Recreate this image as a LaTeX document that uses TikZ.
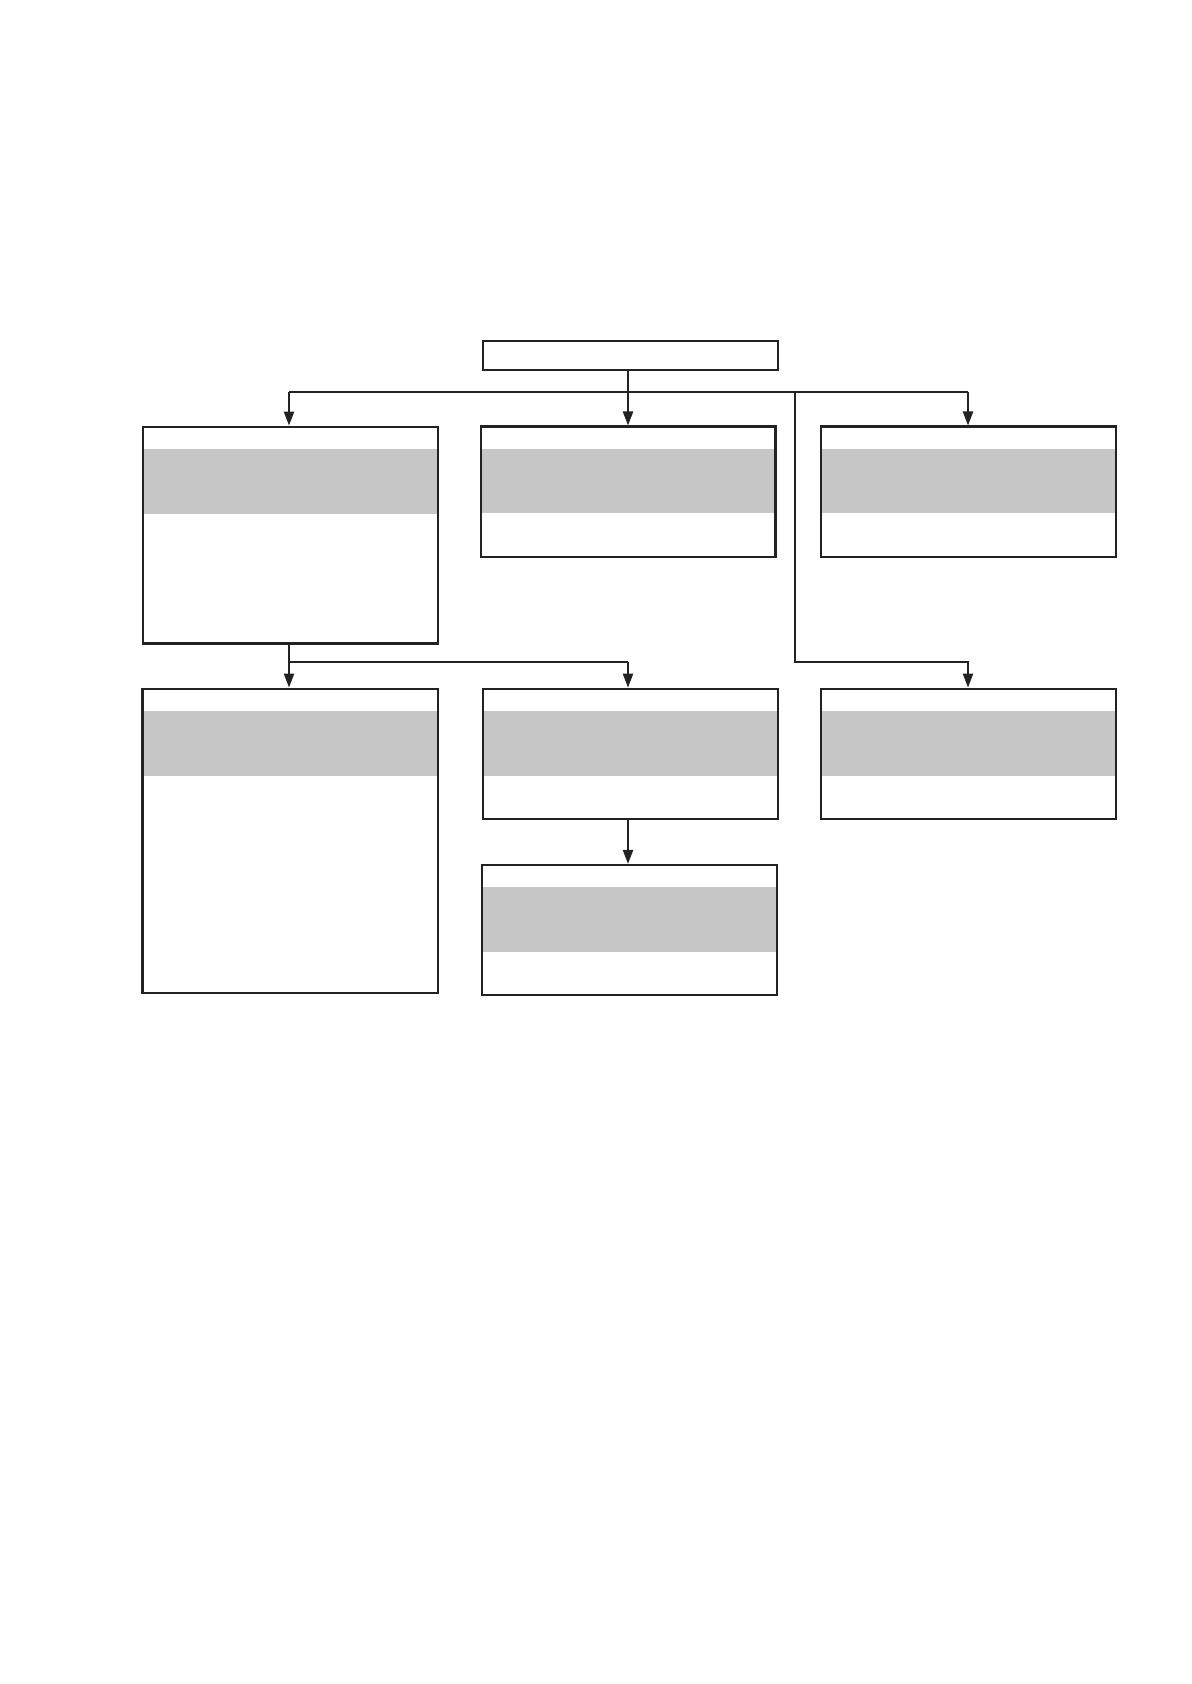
\documentclass[tikz,border=0pt]{standalone}
\usetikzlibrary{arrows.meta}
\definecolor{ink}{HTML}{222222}
\definecolor{band}{HTML}{C6C6C6}
\tikzset{
  x=0.5pt, y=-0.5pt,
  box/.style={draw=ink, line width=1.1pt, inner sep=0pt, fill=none},
  conn/.style={draw=ink, line width=1.1pt},
  arr/.style={conn, -{Triangle[length=7pt,width=5pt]}},
}
\newcommand{\bandbox}[6]{% name, cx, cy, w, h
  \fill[band] (#2-#4/2,#3-#5/2+22.3) rectangle (#2+#4/2,#3-#5/2+86.8);
  \node[box, minimum width=#4*0.5pt, minimum height=#5*0.5pt] (#1) at (#2,#3) {};
}
\begin{document}
\begin{tikzpicture}
\useasboundingbox[fill=white] (0,0) rectangle (1191,1684);
% top box
\node[box, minimum width=294.3*0.5pt, minimum height=29*0.5pt] (top) at (630.5,355.2) {};
% row 1
\bandbox{A}{290.5}{535.1}{295.6}{216.8}{}
\bandbox{B}{628.4}{491.6}{294.3}{130}{}
\bandbox{C}{968.3}{491.6}{295.4}{130}{}
% row 2
\bandbox{D}{290.4}{840.7}{295.8}{304}{}
\bandbox{E}{630.5}{753.9}{295}{130.3}{}
\bandbox{F}{968.3}{753.9}{295.4}{130.3}{}
% row 3
\bandbox{G}{629.5}{929.9}{295}{129.7}{}
% bus coordinates
\coordinate (busL) at (289,392);
\coordinate (busM) at (628,392);
\coordinate (busB) at (795,392);
\coordinate (busR) at (968,392);
\coordinate (bus2L) at (289,662);
\coordinate (bus2M) at (628,662);
\coordinate (bus2B) at (795,662);
\coordinate (bus2R) at (968,662);
% connectors from top
\draw[conn] (busL) -- (busR);
\draw[arr] (top.south -| busM) -- (B.north -| busM);
\draw[arr] (busL) -- (A.north -| busL);
\draw[arr] (busR) -- (C.north -| busR);
\draw[arr] (busB) -- (bus2B) -- (bus2R) -- (F.north -| bus2R);
% connectors from A
\draw[conn] (A.south -| bus2L) -- (bus2L) -- (bus2M);
\draw[arr] (bus2L) -- (D.north -| bus2L);
\draw[arr] (bus2M) -- (E.north -| bus2M);
% E to G
\draw[arr] (E.south -| bus2M) -- (G.north -| bus2M);
\end{tikzpicture}
\end{document}
